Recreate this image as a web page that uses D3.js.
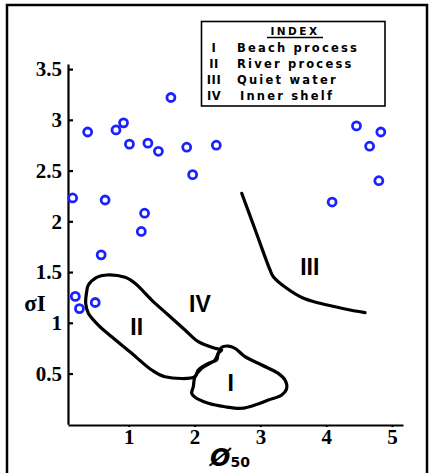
<!DOCTYPE html>
<html><head><meta charset="utf-8">
<script src="https://cdn.jsdelivr.net/npm/d3@7"></script>
<style>
html,body{margin:0;padding:0;background:#fff;}
svg{display:block;}
</style></head>
<body>
<svg id="c" width="430" height="473"></svg>
<script>
// ---- data ----
const xTicks = [1, 2, 3, 4, 5];
const yTicks = [0.5, 1, 1.5, 2, 2.5, 3, 3.5];
const yTickLabels = ["0.5", "1", "1.5", "2", "2.5", "3", "3.5"];
const samplePhi = [0.147,0.375,0.805,0.92,1.01,1.29,1.45,1.64,1.88,1.97,2.33,0.64,1.24,1.19,0.58,0.187,0.25,0.49,4.09,4.46,4.66,4.83,4.80];
const sampleSigma = [2.23,2.88,2.90,2.97,2.76,2.77,2.69,3.22,2.73,2.46,2.75,2.21,2.08,1.90,1.67,1.26,1.14,1.20,2.19,2.94,2.74,2.88,2.40];
const regionII = [[0.360,1.306],[0.385,1.372],[0.512,1.448],[0.664,1.471],[0.942,1.448],[1.094,1.389],[1.348,1.224],[1.600,1.077],[1.854,0.929],[2.056,0.814],[2.310,0.749],[2.412,0.732],[2.360,0.700],[2.336,0.634],[2.208,0.601],[2.056,0.535],[2.006,0.469],[1.550,0.469],[1.348,0.535],[1.044,0.700],[0.740,0.863],[0.536,0.978],[0.385,1.094],[0.345,1.192]];
const regionI = [[2.412,0.759],[2.512,0.771],[2.614,0.749],[2.766,0.666],[3.020,0.584],[3.272,0.502],[3.374,0.436],[3.400,0.355],[3.324,0.289],[3.120,0.239],[2.918,0.190],[2.716,0.158],[2.462,0.173],[2.208,0.207],[2.006,0.266],[1.956,0.305],[1.980,0.370],[2.006,0.469],[2.108,0.552],[2.310,0.634],[2.360,0.700]];
const regionIII = [[2.716,2.276],[2.933,1.895],[3.146,1.521],[3.196,1.454],[3.400,1.340],[3.647,1.244],[3.906,1.192],[4.286,1.136],[4.590,1.100]];
const regionLabels = ["I", "II", "III", "IV"];
const regionLabelPos = [[2.55,0.405],[1.12,0.96],[3.75,1.55],[2.08,1.19]];
const legendNumerals = ["I", "II", "III", "IV"];
const legendNames = ["Beach process", "River process", "Quiet water", "Inner shelf"];

// ---- chart ----
const svg = d3.select("#c");
const x = d3.scaleLinear().domain([0.076, 5.167]).range([68, 403]);
const y = d3.scaleLinear().domain([0, 3.55]).range([424.3, 64]);

// frame
svg.append("rect").attr("x", 7).attr("y", 5).attr("width", 420).attr("height", 480)
  .attr("fill", "none").attr("stroke", "#000").attr("stroke-width", 2.5);

// axes
const gx = svg.append("g").attr("transform", "translate(0,425)")
  .call(d3.axisBottom(x).tickValues(xTicks).tickFormat(d3.format("d")).tickSizeInner(2).tickSizeOuter(0).tickPadding(2));
const gy = svg.append("g").attr("transform", "translate(68,0)")
  .call(d3.axisLeft(y).tickValues(yTicks).tickFormat((d, i) => yTickLabels[i]).tickSizeInner(-5).tickSizeOuter(0).tickPadding(6));
[gx, gy].forEach(g => {
  g.select(".domain").attr("stroke", "#000").attr("stroke-width", 2.2);
  g.selectAll(".tick line").attr("stroke", "#000").attr("stroke-width", 2.2);
  g.selectAll(".tick text").attr("fill", "#000")
    .style("font-family", "'Liberation Serif', 'DejaVu Serif', serif")
    .style("font-weight", "bold").style("font-size", "21px");
});

// region outlines
const closed = d3.line().x(d => x(d[0])).y(d => y(d[1])).curve(d3.curveCatmullRomClosed.alpha(0.5));
const open = d3.line().x(d => x(d[0])).y(d => y(d[1])).curve(d3.curveCatmullRom.alpha(0.5));
svg.append("path").attr("d", closed(regionII)).attr("fill", "none").attr("stroke", "#000").attr("stroke-width", 3.2).attr("stroke-linejoin", "round");
svg.append("path").attr("d", closed(regionI)).attr("fill", "none").attr("stroke", "#000").attr("stroke-width", 3.2).attr("stroke-linejoin", "round");
svg.append("path").attr("d", open(regionIII)).attr("fill", "none").attr("stroke", "#000").attr("stroke-width", 3.2).attr("stroke-linecap", "round");

// region labels
svg.selectAll("text.reg").data(regionLabels).enter().append("text").attr("class", "reg")
  .attr("x", (d, i) => x(regionLabelPos[i][0])).attr("y", (d, i) => y(regionLabelPos[i][1]))
  .attr("text-anchor", "middle").attr("dominant-baseline", "central")
  .style("font-family", "'Liberation Sans', Arial, sans-serif").style("font-weight", "bold").style("font-size", "23px")
  .text(d => d);

// points
const pts = samplePhi.map((v, i) => [v, sampleSigma[i]]);
svg.selectAll("circle.pt").data(pts).enter().append("circle").attr("class", "pt")
  .attr("cx", d => x(d[0])).attr("cy", d => y(d[1])).attr("r", 4)
  .attr("fill", "#fff").attr("stroke", "#1a22ff").attr("stroke-width", 2.8);

// axis titles
svg.append("text").attr("x", 35).attr("y", 303).attr("text-anchor", "middle").attr("dominant-baseline", "central")
  .style("font-family", "'Liberation Serif', serif").style("font-weight", "bold").style("font-size", "23px")
  .text("σI");
const xt = svg.append("text").attr("x", 230).attr("y", 466).attr("text-anchor", "middle")
  .style("font-family", "'DejaVu Sans', sans-serif").style("font-weight", "bold");
xt.append("tspan").style("font-size", "24px").style("font-style", "italic").text("Ø");
xt.append("tspan").style("font-size", "14px").attr("dy", 1).text("50");

// legend
const lg = svg.append("g");
lg.append("rect").attr("x", 201.5).attr("y", 21.5).attr("width", 183.5).attr("height", 84.5)
  .attr("fill", "#fff").attr("stroke", "#000").attr("stroke-width", 1.6);
lg.append("text").attr("x", 295).attr("y", 35).attr("text-anchor", "middle")
  .style("font-family", "'DejaVu Sans', sans-serif").style("font-weight", "bold").style("font-size", "10.5px")
  .style("letter-spacing", "2.5px").text("INDEX");
lg.append("line").attr("x1", 267).attr("x2", 323).attr("y1", 37.5).attr("y2", 37.5).attr("stroke", "#000").attr("stroke-width", 1.3);
const rowY = [51.5, 68, 83.5, 100];
lg.selectAll("text.num").data(legendNumerals).enter().append("text").attr("class", "num")
  .attr("x", 214).attr("y", (d, i) => rowY[i]).attr("text-anchor", "middle")
  .style("font-family", "'DejaVu Sans', sans-serif").style("font-weight", "bold").style("font-size", "11.5px")
  .style("letter-spacing", "0.5px").text(d => d);
lg.selectAll("text.nm").data(legendNames).enter().append("text").attr("class", "nm")
  .attr("x", (d, i) => i === 3 ? 240 : 237).attr("y", (d, i) => rowY[i])
  .style("font-family", "'DejaVu Sans', sans-serif").style("font-weight", "bold").style("font-size", "11.5px")
  .style("letter-spacing", "2.2px").text(d => d);
</script>
</body></html>
